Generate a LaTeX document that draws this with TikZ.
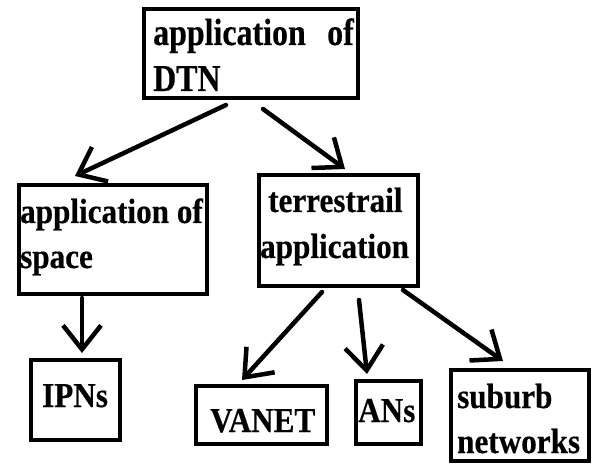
\documentclass[tikz,border=0pt]{standalone}
\usepackage{fontspec}
\setmainfont{Liberation Serif}[FakeStretch=0.89,BoldFeatures={FakeBold=0.4}]
\newfontfamily\topfont{Liberation Serif}[FakeStretch=0.84,BoldFeatures={FakeBold=0.4}]
\usetikzlibrary{arrows.meta,calc}
\begin{document}
\begin{tikzpicture}[x=1pt,y=-1pt,
  box/.style={draw=black,line width=4pt,rectangle,inner sep=0pt},
  lbl/.style={anchor=base west,inner sep=0pt,font=\fontsize{35}{45}\selectfont\bfseries},
  toplbl/.style={anchor=base west,inner sep=0pt,font=\topfont\fontsize{38}{45}\selectfont\bfseries},
  conn/.style={line width=4.5pt,line cap=round,-{Straight Barb[length=24pt,width=38pt]}}]
\useasboundingbox[fill=white] (0,0) rectangle (592,465);
% boxes
\node[box,minimum width=214pt,minimum height=89pt] (top) at (251,53.5) {};
\node[box,minimum width=188pt,minimum height=109pt] (left) at (113,239.5) {};
\node[box,minimum width=159pt,minimum height=111pt] (terr) at (338.5,230.5) {};
\node[box,minimum width=89pt,minimum height=80pt] (ipn) at (75.5,400) {};
\node[box,minimum width=131pt,minimum height=58pt] (vanet) at (261.5,415) {};
\node[box,minimum width=65pt,minimum height=63pt] (ans) at (388.5,412.5) {};
\node[box,minimum width=138pt,minimum height=91pt] (sub) at (520,415.5) {};
% texts
\node[toplbl] (t1) at (153,45) {application};
\node[toplbl] (t2) at (327,45) {of};
\node[toplbl] (t3) at (153,91) {DTN};
\node[lbl] (l1) at (20,223) {application of};
\node[lbl] (l2) at (20,268) {space};
\node[lbl] (r1) at (268,212) {terrestrail};
\node[lbl] (r2) at (260,258) {application};
\node[lbl] (i1) at (42,407) {IPNs};
\node[lbl] (v1) at (210,432) {VANET};
\node[lbl] (a1) at (358,422) {ANs};
\node[lbl] (s1) at (457,408) {suburb};
\node[lbl] (s2) at (457,453) {networks};
% connectors
\draw[conn] ($(top.south)+(-25,5)$) -- ($(left.north)+(-38,-7)$);
\draw[conn] ($(top.south)+(12,9)$) -- ($(terr.north)+(6.5,-4)$);
\draw[conn] ($(left.south)+(-31,2)$) -- ($(ipn.north)+(6.5,-5)$);
\draw[conn] ($(terr.south)+(-16.5,4)$) -- ($(vanet.north)+(-19.5,-4)$);
\draw[conn] ($(terr.south)+(20.5,12)$) -- ($(ans.north)+(-21.5,-5)$);
\draw[conn] ($(terr.south)+(64.5,2)$) -- ($(sub.north)+(-17,-7)$);
\end{tikzpicture}
\end{document}
